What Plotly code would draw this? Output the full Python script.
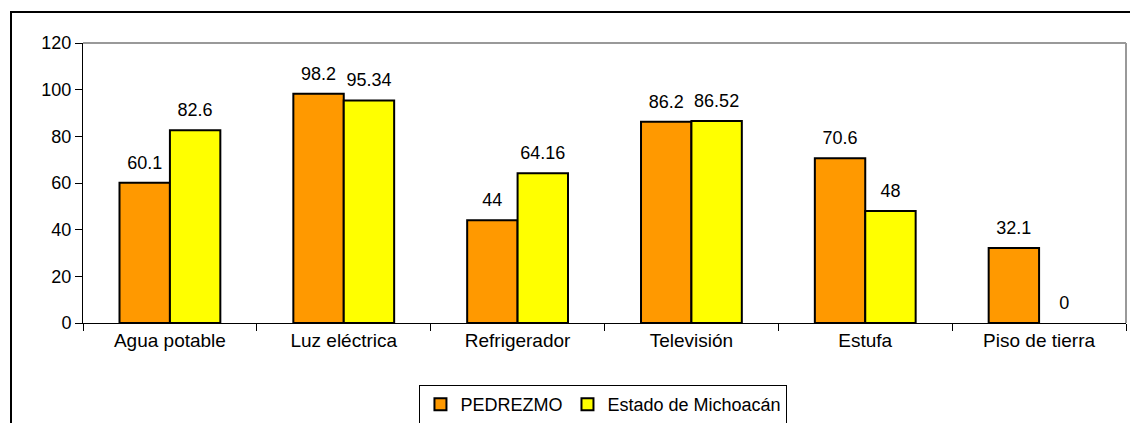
import plotly.graph_objects as go

# Data
categorias = ["Agua potable", "Luz eléctrica", "Refrigerador", "Televisión", "Estufa", "Piso de tierra"]
pedrezmo = [60.1, 98.2, 44, 86.2, 70.6, 32.1]
michoacan = [82.6, 95.34, 64.16, 86.52, 48, 0]

fuente = dict(family="Liberation Sans, Arial", size=18, color="black")
fuente_cat = dict(family="Liberation Sans, Arial", size=19, color="black")

W, H = 1130, 423
ML, MR, MT, MB = 83, 4, 43, 100
PW, PH = W - ML - MR, H - MT - MB

fig = go.Figure()
series = [("PEDREZMO", pedrezmo, "#FF9900"), ("Estado de Michoacán", michoacan, "#FFFF00")]
for i, (nombre, valores, color) in enumerate(series):
    fig.add_trace(go.Bar(
        x=categorias, y=valores, name=nombre, offsetgroup=str(i),
        marker=dict(color=color,
                    line=dict(color="black", width=[2 if v else 0 for v in valores]))
    ))
# value labels above the bars, grouped the same way as the bars
for i, (nombre, valores, color) in enumerate(series):
    fig.add_trace(go.Scatter(
        x=categorias, y=valores, mode="markers+text", offsetgroup=str(i),
        text=[str(v) for v in valores], textposition="top center",
        textfont=fuente, marker=dict(size=14, opacity=0),
        showlegend=False, hoverinfo="skip", cliponaxis=False
    ))

fig.update_layout(
    width=W, height=H,
    margin=dict(l=ML, r=MR, t=MT, b=MB),
    paper_bgcolor="white", plot_bgcolor="white",
    barmode="group", bargap=0.42, bargroupgap=0,
    scattermode="group", scattergap=0.42,
    font=fuente,
    showlegend=True,
    legend=dict(
        orientation="h", x=0.499, xanchor="center",
        yref="container", y=(H - 385) / H, yanchor="top",
        bordercolor="black", borderwidth=1, font=fuente,
        itemwidth=30, tracegroupgap=0
    ),
    xaxis=dict(
        showline=True, linecolor="black", linewidth=1, mirror=False,
        ticks="outside", ticklen=7, tickcolor="black", tickson="boundaries",
        showgrid=False, tickfont=fuente_cat, automargin=False
    ),
    yaxis=dict(
        range=[0, 120], dtick=20, showline=True, linecolor="black", linewidth=1,
        ticks="outside", ticklen=7, tickcolor="black", showgrid=False,
        zeroline=False, tickfont=fuente, automargin=False
    ),
    shapes=[
        # gray plot frame top and right
        dict(type="line", xref="paper", yref="paper", x0=0, x1=1, y0=1, y1=1,
             line=dict(color="#999999", width=2)),
        dict(type="line", xref="paper", yref="paper", x0=1, x1=1, y0=0, y1=1,
             line=dict(color="#999999", width=2)),
        # outer chart border
        dict(type="rect", xref="paper", yref="paper",
             x0=(11 - ML) / PW, x1=1.2, y0=-0.6, y1=1 + (MT - 12) / PH,
             line=dict(color="black", width=2), layer="below"),
    ],
)

# drop the default 8px page margin so the figure fills the window
fig.write_html("out.html", config={"displayModeBar": False},
               post_script="document.body.style.margin = '0';")
